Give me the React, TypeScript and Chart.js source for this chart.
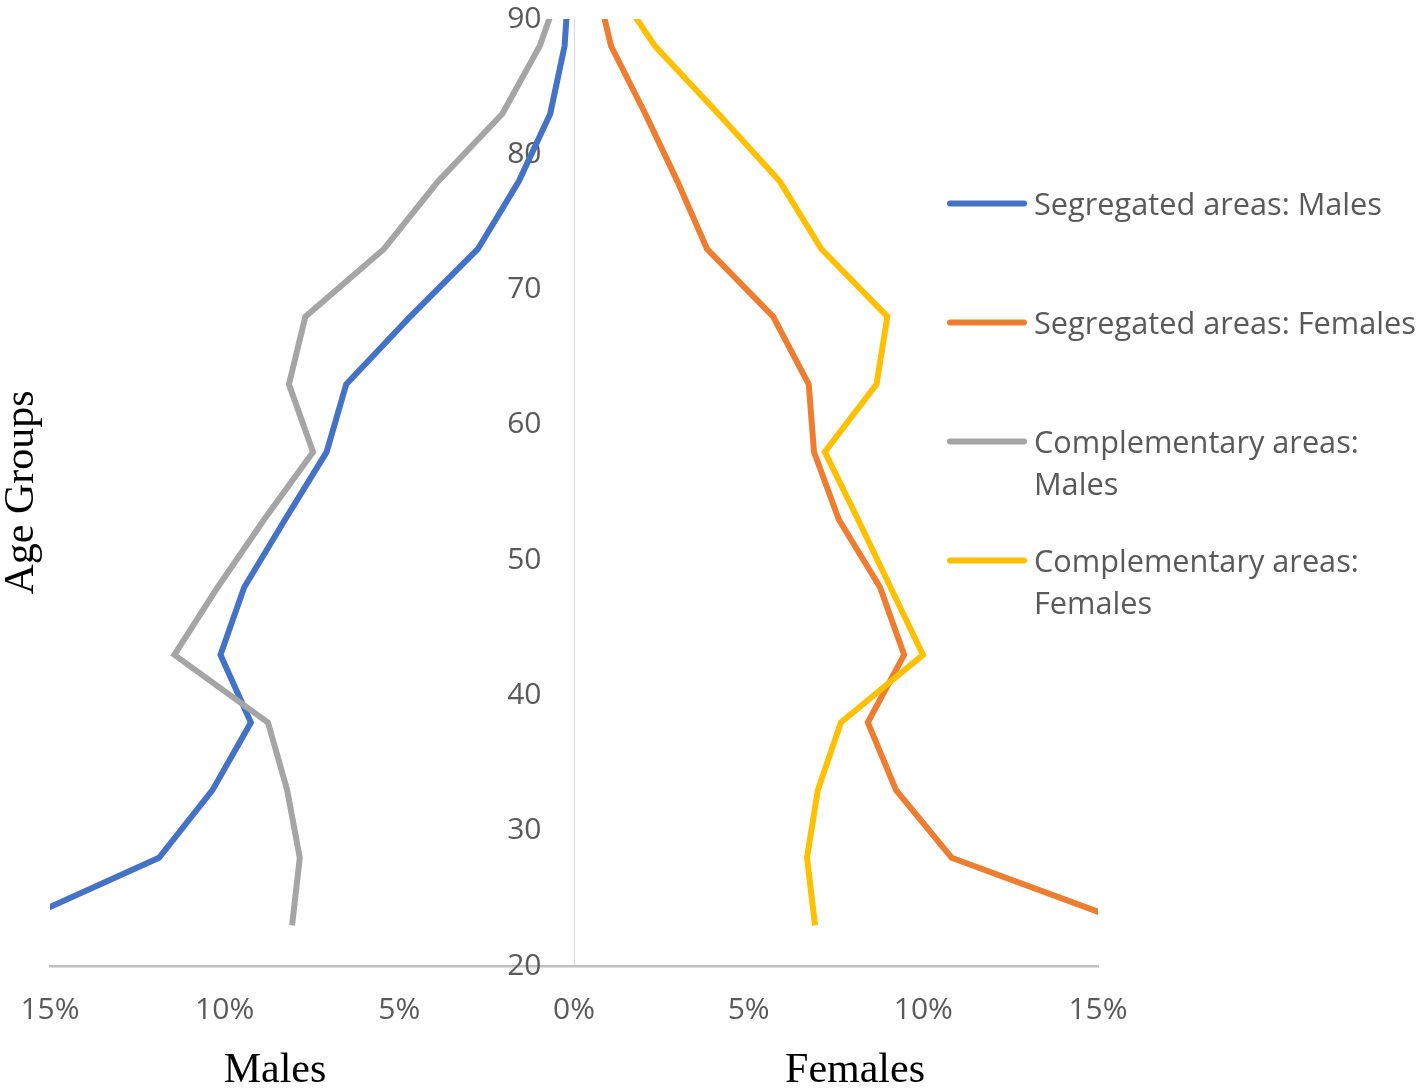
import React, { useEffect, useRef } from "react";
import { Chart, registerables } from "chart.js";

Chart.register(...registerables);

// Age-group midpoints (years)
const ageGroups = [23, 28, 33, 38, 43, 48, 53, 58, 63, 68, 73, 78, 83, 88, 93];

// Share of population (%) per age group
const segregatedMales = [16.17, 11.88, 10.35, 9.25, 10.12, 9.44, 8.27, 7.08, 6.52, 4.69, 2.75, 1.58, 0.68, 0.27, 0.14];
const segregatedFemales = [16.06, 10.81, 9.22, 8.41, 9.45, 8.76, 7.58, 6.87, 6.72, 5.7, 3.81, 2.96, 2.04, 1.06, 0.6];
const complementaryMales = [8.07, 7.85, 8.21, 8.76, 11.44, 10.2, 8.87, 7.47, 8.16, 7.69, 5.44, 3.89, 2.05, 0.98, 0.3];
const complementaryFemales = [6.9, 6.67, 6.98, 7.64, 9.99, 9.06, 8.13, 7.18, 8.66, 8.97, 7.08, 5.89, 4.13, 2.32, 1.01];

const seriesNames = [
  "Segregated areas: Males",
  "Segregated areas: Females",
  "Complementary areas: Males",
  "Complementary areas: Females",
];
const seriesColors = ["#4472C4", "#ED7D31", "#A5A5A5", "#FFC000"];

const xTitleLeft = "Males";
const xTitleRight = "Females";
const yTitle = "Age Groups";

const TICK_FONT = { family: "'Open Sans'", size: 30 };
const TEXT_GRAY = "#595959";

function wrapText(ctx: CanvasRenderingContext2D, text: string, maxWidth: number): string[] {
  const words = text.split(" ");
  const lines: string[] = [];
  let cur = "";
  for (const w of words) {
    const test = cur ? cur + " " + w : w;
    if (ctx.measureText(test).width > maxWidth && cur) {
      lines.push(cur);
      cur = w;
    } else {
      cur = test;
    }
  }
  if (cur) lines.push(cur);
  return lines;
}

const annotationsPlugin = {
  id: "legendAndTitles",
  afterDraw(chart: any) {
    const ctx: CanvasRenderingContext2D = chart.ctx;
    ctx.save();
    // Legend
    const legendTop = 203.5;
    const legendGap = 119;
    const lineX1 = 950;
    const lineX2 = 1024;
    const textX = 1034;
    ctx.font = "30.7px 'Open Sans'";
    chart.data.datasets.forEach((ds: any, i: number) => {
      const y = legendTop + i * legendGap;
      ctx.strokeStyle = ds.borderColor;
      ctx.lineWidth = 6;
      ctx.lineCap = "round";
      ctx.beginPath();
      ctx.moveTo(lineX1, y);
      ctx.lineTo(lineX2, y);
      ctx.stroke();
      ctx.fillStyle = TEXT_GRAY;
      ctx.textAlign = "left";
      ctx.textBaseline = "alphabetic";
      const lines = wrapText(ctx, ds.label, chart.width - textX);
      lines.forEach((ln, j) => ctx.fillText(ln, textX, y + 11.5 + j * 42));
    });
    // Axis titles
    ctx.fillStyle = "#000000";
    ctx.font = "42px 'Liberation Serif'";
    ctx.textAlign = "center";
    ctx.textBaseline = "alphabetic";
    ctx.fillText(xTitleLeft, 275, 1082);
    ctx.fillText(xTitleRight, 855, 1082);
    ctx.translate(33, 492.5);
    ctx.rotate(-Math.PI / 2);
    ctx.fillText(yTitle, 0, 0);
    ctx.restore();
  },
};

export default function App() {
  const canvasRef = useRef<HTMLCanvasElement | null>(null);

  useEffect(() => {
    if (!canvasRef.current) return;
    const seriesValues = [segregatedMales, segregatedFemales, complementaryMales, complementaryFemales];
    const signs = [-1, 1, -1, 1];
    const orders = [4, 3, 2, 1];
    const chart = new Chart(canvasRef.current, {
      type: "scatter",
      data: {
        datasets: seriesValues.map((vals, i) => ({
          label: seriesNames[i],
          data: ageGroups.map((age, k) => ({ x: signs[i] * vals[k], y: age })),
          showLine: true,
          borderColor: seriesColors[i],
          backgroundColor: seriesColors[i],
          borderWidth: 6,
          pointRadius: 0,
          pointHoverRadius: 0,
          tension: 0,
          clip: 0,
          order: orders[i],
        })),
      },
      options: {
        responsive: false,
        animation: false,
        devicePixelRatio: 1,
        layout: { padding: { left: 50, right: 320, top: 19, bottom: 0 } },
        plugins: {
          legend: { display: false },
          tooltip: { enabled: false },
        },
        scales: {
          x: {
            type: "linear",
            position: "bottom",
            min: -15,
            max: 15,
            ticks: {
              stepSize: 5,
              autoSkip: false,
              maxRotation: 0,
              padding: 26,
              font: TICK_FONT,
              color: TEXT_GRAY,
              callback: (v: any) => Math.abs(Number(v)) + "%",
            },
            grid: {
              display: true,
              drawTicks: false,
              lineWidth: 1,
              color: (c: any) => (c.tick && c.tick.value === 0 ? "#D9D9D9" : "rgba(0,0,0,0)"),
            },
            border: { display: true, color: "#BFBFBF", width: 2.5 },
            afterFit: (s: any) => {
              s.height = 124;
              s.paddingLeft = 0;
              s.paddingRight = 0;
            },
          },
          y: {
            type: "linear",
            position: { x: -0.93 } as any,
            min: 20,
            max: 90,
            ticks: {
              stepSize: 10,
              font: TICK_FONT,
              color: TEXT_GRAY,
            },
            grid: { display: false, drawTicks: false },
            border: { display: false },
            afterFit: (s: any) => {
              s.paddingTop = 0;
              s.paddingBottom = 0;
            },
          },
        },
      },
      plugins: [annotationsPlugin],
    } as any);
    return () => chart.destroy();
  }, []);

  return (
    <div style={{ position: "fixed", left: 0, top: 0, width: 1418, height: 1090, background: "#ffffff" }}>
      <canvas ref={canvasRef} width={1418} height={1090} style={{ display: "block", width: 1418, height: 1090 }} />
    </div>
  );
}
